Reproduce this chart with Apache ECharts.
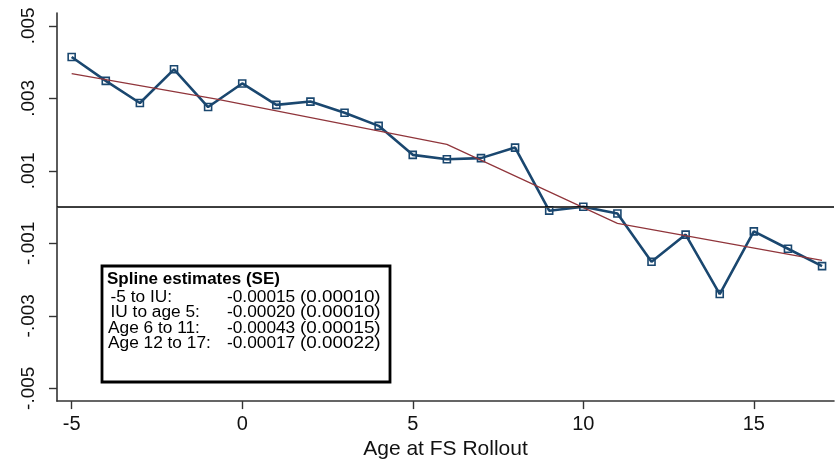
<!DOCTYPE html>
<html><head><meta charset="utf-8">
<script src="https://cdn.jsdelivr.net/npm/echarts@6/dist/echarts.min.js"></script>
<style>html,body{margin:0;padding:0;background:#fff}#c{width:838px;height:465px}</style>
</head><body><div id="c"></div>
<script>
// ---- data ----
const ages = [-5,-4,-3,-2,-1,0,1,2,3,4,5,6,7,8,9,10,11,12,13,14,15,16,17];
const estimates = [0.00414,0.00348,0.00287,0.00380,0.00276,0.00341,0.00282,0.00291,0.00260,0.00224,0.00144,0.00132,0.00135,0.00164,-0.00010,0.00001,-0.00018,-0.00151,-0.00076,-0.00240,-0.00067,-0.00115,-0.00163];
const splineAges = [-5,-0.75,6,11,17];
const splineFit = [0.00368,0.00298,0.00173,-0.00045,-0.00147];
const xTicks = [-5,0,5,10,15];
const yTicks = [-0.005,-0.003,-0.001,0.001,0.003,0.005];
const yTickLabels = ['-.005','-.003','-.001','.001','.003','.005'];
const titleText = 'Nonwhite females';
const xTitle = 'Age at FS Rollout';
const boxTitle = 'Spline estimates (SE)';
const boxRows = ['-5 to IU:','IU to age 5:','Age 6 to 11:','Age 12 to 17:'];
const boxEst = ['-0.00015','-0.00020','-0.00043','-0.00017'];
const boxSE = ['(0.00010)','(0.00010)','(0.00015)','(0.00022)'];

// ---- chart ----
const FONT = "'Liberation Sans', Arial, sans-serif";
const navy = '#1a476f';
const chart = echarts.init(document.getElementById('c'), null, {renderer: 'canvas'});

const rowX = [110.5, 110.5, 108, 108];
const rowBase = [303, 318.5, 334, 349.5];
const graphics = [
  {type: 'text', z: 100, style: {text: titleText, x: 443, y: -9.3, align: 'center', verticalAlign: 'middle', font: 'bold 28px ' + FONT, fill: '#7f8fa3'}},
  {type: 'rect', z: 100, shape: {x: 102, y: 266, width: 288, height: 116}, style: {fill: '#fff', stroke: '#000', lineWidth: 2.8}},
  {type: 'text', z: 101, style: {text: boxTitle, x: 107, y: 285 - 6, verticalAlign: 'middle', font: 'bold 17px ' + FONT, fill: '#000'}}
];
boxRows.forEach((r, i) => {
  const y = rowBase[i] - 6;
  graphics.push({type: 'text', z: 101, style: {text: r, x: rowX[i], y: y, verticalAlign: 'middle', font: '17.3px ' + FONT, fill: '#000'}});
  graphics.push({type: 'text', z: 101, style: {text: boxEst[i], x: 227, y: y, verticalAlign: 'middle', font: '17.3px ' + FONT, fill: '#000'}});
  graphics.push({type: 'text', z: 101, x: 300, scaleX: 1.09, style: {text: boxSE[i], x: 0, y: y, verticalAlign: 'middle', font: '17.3px ' + FONT, fill: '#000'}});
});

const gridMarks = yTicks.map(v => ({yAxis: v, lineStyle: {color: '#e3edef', width: 1, type: 'solid'}}));
gridMarks.push({yAxis: 0, lineStyle: {color: '#000', width: 1.5, type: 'solid'}});

chart.setOption({
  animation: false,
  backgroundColor: '#fff',
  textStyle: {fontFamily: FONT},
  grid: {left: 57, right: 4, top: 13, bottom: 59, containLabel: false},
  xAxis: {
    type: 'value', min: -5.43, max: 17.35,
    axisLine: {show: true, onZero: false, lineStyle: {color: '#333', width: 1.6}},
    axisTick: {show: true, customValues: xTicks, length: 8, lineStyle: {color: '#333', width: 1.4}},
    axisLabel: {show: true, customValues: xTicks, fontSize: 20, color: '#111', margin: 13, fontFamily: FONT},
    splitLine: {show: false},
    name: xTitle, nameLocation: 'middle', nameGap: 36,
    nameTextStyle: {fontSize: 21, color: '#111', fontFamily: FONT}
  },
  yAxis: {
    type: 'value', min: -0.005354, max: 0.005354,
    axisLine: {show: true, onZero: false, lineStyle: {color: '#333', width: 1.6}},
    axisTick: {show: true, customValues: yTicks, length: 8, lineStyle: {color: '#333', width: 1.4}},
    axisLabel: {show: true, customValues: yTicks, rotate: 90, fontSize: 19, color: '#111', margin: 19, fontFamily: FONT,
      formatter: v => { const i = yTicks.findIndex(t => Math.abs(t - v) < 1e-9); return i >= 0 ? yTickLabels[i] : ''; }},
    splitLine: {show: false}
  },
  graphic: graphics,
  series: [
    {type: 'line', z: 1, data: [], silent: true,
      markLine: {silent: true, symbol: ['none', 'none'], label: {show: false}, animation: false, data: gridMarks}},
    {type: 'line', z: 3, data: ages.map((a, i) => [a, estimates[i]]),
      symbol: 'rect', symbolSize: 7, showAllSymbol: true,
      lineStyle: {color: navy, width: 2.6},
      itemStyle: {color: 'rgba(255,255,255,0)', borderColor: navy, borderWidth: 1.6},
      emphasis: {disabled: true}, silent: true},
    {type: 'line', z: 4, data: splineAges.map((a, i) => [a, splineFit[i]]),
      symbol: 'none', lineStyle: {color: '#90353b', width: 1.2},
      emphasis: {disabled: true}, silent: true}
  ]
});
</script>
</body></html>
